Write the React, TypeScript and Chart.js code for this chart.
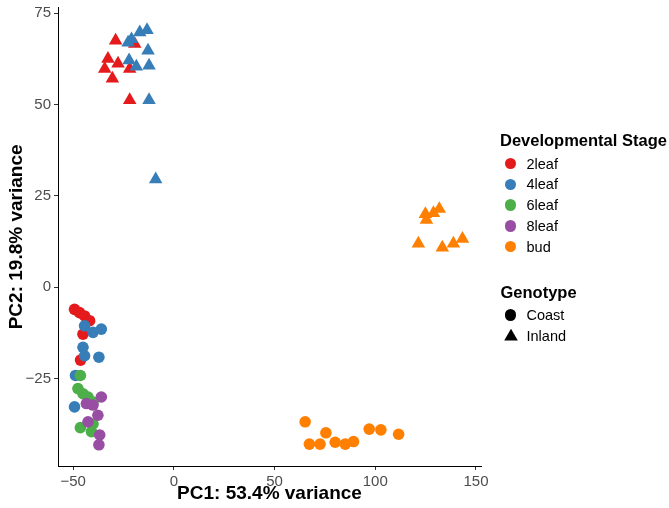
import React, { useEffect, useRef } from "react";
import { Chart, registerables } from "chart.js";

Chart.register(...registerables);

const FONT = "'Liberation Sans', Arial, Helvetica, sans-serif";

const stageNames = ["2leaf", "4leaf", "6leaf", "8leaf", "bud"];
const stageColors = ["#E41A1C", "#377EB8", "#4DAF4A", "#984EA3", "#FF7F00"];
const genotypeNames = ["Coast", "Inland"];
const xTicks = [-50, 0, 50, 100, 150];
const yTicks = [-25, 0, 25, 50, 75];

// Coast (circles)
const leaf2Coast = [[-49.3, -6.1], [-46.8, -7.0], [-44.3, -7.9], [-41.8, -9.2], [-45.1, -12.9], [-46.3, -20.0]];
const leaf4Coast = [[-44.3, -10.6], [-40.1, -12.4], [-36.0, -11.5], [-45.1, -16.5], [-44.3, -18.8], [-37.2, -19.2], [-48.8, -24.2], [-49.3, -32.8]];
const leaf6Coast = [[-46.4, -24.2], [-47.6, -27.8], [-45.1, -29.2], [-42.6, -30.1], [-40.1, -31.5], [-46.4, -38.5], [-40.9, -39.6], [-40.1, -37.5]];
const leaf8Coast = [[-36.0, -30.1], [-43.4, -31.9], [-40.1, -32.3], [-37.7, -35.1], [-42.6, -36.9], [-36.8, -40.5], [-37.2, -43.2]];
const budCoast = [[65.2, -36.9], [67.3, -43.0], [72.6, -43.0], [75.5, -39.9], [80.1, -42.5], [85.1, -43.0], [89.2, -42.3], [97.0, -38.9], [102.8, -39.1], [111.6, -40.3]];

// Inland (triangles)
const leaf2Inland = [[-28.9, 67.5], [-32.7, 62.5], [-27.7, 61.2], [-34.3, 59.8], [-30.5, 57.1], [-21.9, 59.8], [-19.4, 66.6], [-21.9, 51.2]];
const leaf4Inland = [[-21.0, 67.9], [-16.9, 69.8], [-13.3, 70.4], [-22.7, 67.0], [-12.8, 64.8], [-22.2, 62.1], [-18.6, 60.4], [-12.3, 60.7], [-12.3, 51.2], [-9.0, 29.5]];
const budInland = [[124.9, 20.0], [125.4, 18.4], [128.9, 20.3], [131.8, 21.4], [121.4, 11.9], [133.3, 10.8], [138.8, 11.9], [143.3, 13.2]];

const seriesList = [
  { stage: 0, geno: 0, pts: leaf2Coast },
  { stage: 0, geno: 1, pts: leaf2Inland },
  { stage: 1, geno: 0, pts: leaf4Coast },
  { stage: 1, geno: 1, pts: leaf4Inland },
  { stage: 2, geno: 0, pts: leaf6Coast },
  { stage: 3, geno: 0, pts: leaf8Coast },
  { stage: 4, geno: 0, pts: budCoast },
  { stage: 4, geno: 1, pts: budInland },
];

const fmt = (v: number) => (v < 0 ? "\u2212" + Math.abs(v) : String(v));

function Legend() {
  const text: React.CSSProperties = { position: "absolute", fontFamily: FONT, color: "#000", whiteSpace: "nowrap", lineHeight: "20px" };
  const rowsY = [163.5, 184.3, 205.1, 225.9, 246.7];
  return (
    <>
      <div style={{ ...text, left: 500, top: 130, fontSize: 16.5, fontWeight: "bold" }}>Developmental Stage</div>
      {stageNames.map((n, i) => (
        <React.Fragment key={n}>
          <div style={{ position: "absolute", left: 510.5 - 5.75, top: rowsY[i] - 5.75, width: 11.5, height: 11.5, borderRadius: "50%", background: stageColors[i] }} />
          <div style={{ ...text, left: 526.5, top: rowsY[i] - 10, fontSize: 14.5 }}>{n}</div>
        </React.Fragment>
      ))}
      <div style={{ ...text, left: 500.5, top: 281.5, fontSize: 16.5, fontWeight: "bold" }}>Genotype</div>
      <div style={{ position: "absolute", left: 504.75, top: 315 - 5.75, width: 11.5, height: 11.5, borderRadius: "50%", background: "#000" }} />
      <div style={{ ...text, left: 526.5, top: 315 - 10, fontSize: 14.5 }}>{genotypeNames[0]}</div>
      <svg style={{ position: "absolute", left: 503, top: 328 }} width="16" height="14">
        <polygon points="8,0.8 14.8,12.6 1.2,12.6" fill="#000" />
      </svg>
      <div style={{ ...text, left: 526.5, top: 336 - 10, fontSize: 14.5 }}>{genotypeNames[1]}</div>
    </>
  );
}

export default function App() {
  const ref = useRef<HTMLCanvasElement | null>(null);
  useEffect(() => {
    if (!ref.current) return;
    const datasets = seriesList.map((s, i) => ({
      label: stageNames[s.stage] + " " + genotypeNames[s.geno],
      data: s.pts.map(([x, y]) => ({ x, y })),
      backgroundColor: stageColors[s.stage],
      borderWidth: 0,
      pointStyle: s.geno === 0 ? "circle" : "triangle",
      pointRadius: s.geno === 0 ? 5.8 : 7.8,
      order: 20 - i,
    }));
    const chart = new Chart(ref.current, {
      type: "scatter",
      data: { datasets: datasets as any },
      options: {
        animation: false,
        responsive: false,
        devicePixelRatio: 1,
        events: [],
        layout: { padding: { top: 5, right: 188, left: 0, bottom: 0 } },
        plugins: { legend: { display: false }, tooltip: { enabled: false } },
        scales: {
          x: {
            type: "linear",
            min: -57.5,
            max: 152.5,
            afterBuildTicks: (a: any) => { a.ticks = xTicks.map((v) => ({ value: v })); },
            afterFit: (s: any) => { s.height = 42; s.paddingLeft = 0; s.paddingRight = 0; },
            grid: { drawOnChartArea: false, drawTicks: true, tickLength: 4, tickColor: "#333333", tickWidth: 1 },
            border: { display: true, color: "#000", width: 1 },
            ticks: { color: "#4D4D4D", font: { family: FONT, size: 15 }, padding: 3, maxRotation: 0, callback: (v: any) => fmt(Number(v)) },
            title: { display: true, text: "PC1: 53.4% variance", color: "#000", font: { family: FONT, size: 19, weight: "bold" }, padding: { top: 0, bottom: 2.5 } },
          },
          y: {
            type: "linear",
            min: -49,
            max: 76.5,
            afterBuildTicks: (a: any) => { a.ticks = yTicks.map((v) => ({ value: v })); },
            afterFit: (s: any) => { s.width = 58; s.paddingTop = 0; s.paddingBottom = 0; },
            grid: { drawOnChartArea: false, drawTicks: true, tickLength: 4, tickColor: "#333333", tickWidth: 1 },
            border: { display: true, color: "#000", width: 1 },
            ticks: { color: "#4D4D4D", font: { family: FONT, size: 15 }, padding: 3, callback: (v: any) => fmt(Number(v)) },
            title: { display: true, text: "PC2: 19.8% variance", color: "#000", font: { family: FONT, size: 19, weight: "bold" }, padding: { top: 5.5, bottom: 0 } },
          },
        },
      } as any,
    });
    return () => chart.destroy();
  }, []);
  return (
    <div style={{ position: "fixed", left: 0, top: 0, width: 669, height: 508, background: "#fff" }}>
      <canvas ref={ref} width={669} height={508} style={{ display: "block", width: 669, height: 508 }} />
      <Legend />
    </div>
  );
}
